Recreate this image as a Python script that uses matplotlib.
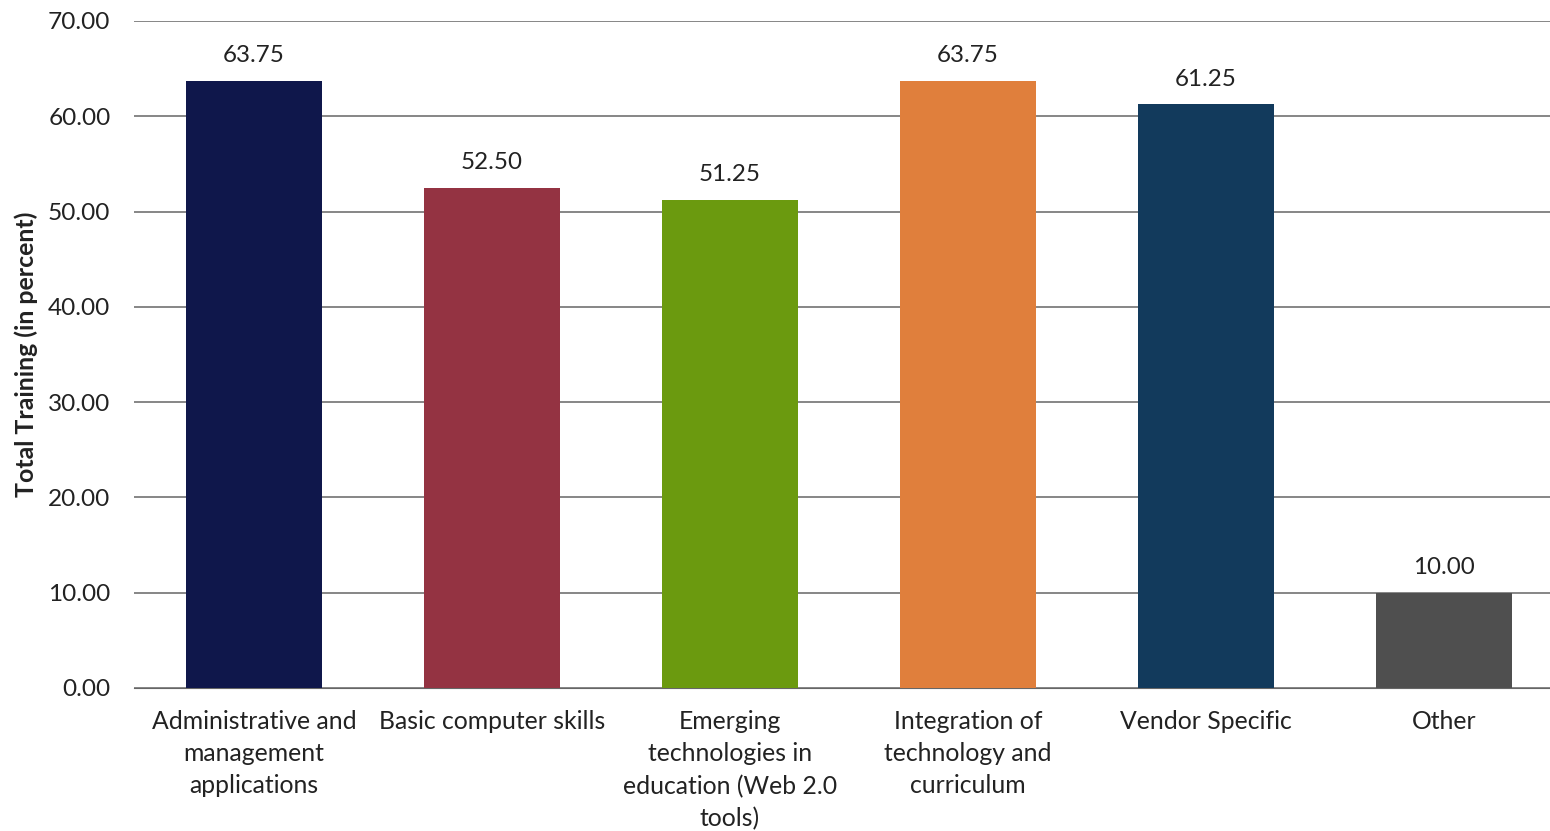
import matplotlib
matplotlib.use("Agg")
import matplotlib.pyplot as plt

categories = [
    "Administrative and\nmanagement\napplications",
    "Basic computer skills",
    "Emerging\ntechnologies in\neducation (Web 2.0\ntools)",
    "Integration of\ntechnology and\ncurriculum",
    "Vendor Specific",
    "Other",
]
values = [63.75, 52.50, 51.25, 63.75, 61.25, 10.00]
colors = ["#0f174b", "#943342", "#6b9a0f", "#e07f3c", "#123a5c", "#4f4f4f"]
yticks = [0, 10, 20, 30, 40, 50, 60, 70]

plt.rcParams["font.family"] = ["Lato", "DejaVu Sans"]

fig = plt.figure(figsize=(15.5, 8.31), dpi=100)
ax = fig.add_axes([134 / 1550, 1 - 688 / 831, (1550 - 134) / 1550, (688 - 21) / 831])

x = range(len(values))
bars = ax.bar(x, values, width=0.571, color=colors, zorder=3)
for b, v in zip(bars, values):
    ax.text(b.get_x() + b.get_width() / 2, v + 1.5, f"{v:.2f}", ha="center", va="bottom",
            fontsize=17.4, color="#222222", zorder=4)

ax.set_xlim(-0.504, 5.446)
ax.set_ylim(0, 70)
ax.set_yticks(yticks)
ax.set_yticklabels([f"{t:.2f}" for t in yticks], fontsize=17.6, color="#222222")
ax.set_xticks(list(x))
ax.set_xticklabels(categories, fontsize=17.8, color="#222222", linespacing=1.48)
ax.tick_params(axis="both", length=0)
ax.tick_params(axis="x", pad=16)
ax.tick_params(axis="y", pad=17)
ax.grid(axis="y", color="#666666", linewidth=1.1, zorder=1)
ax.set_axisbelow(True)
for s in ["top", "right", "left"]:
    ax.spines[s].set_visible(False)
ax.spines["bottom"].set_color("#666666")
ax.set_ylabel("Total Training (in percent)", fontsize=17.9, fontweight="bold", color="#222222")
ax.yaxis.set_label_coords(-0.068, 0.5)

fig.savefig("out.png", dpi=100)
plt.close(fig)
